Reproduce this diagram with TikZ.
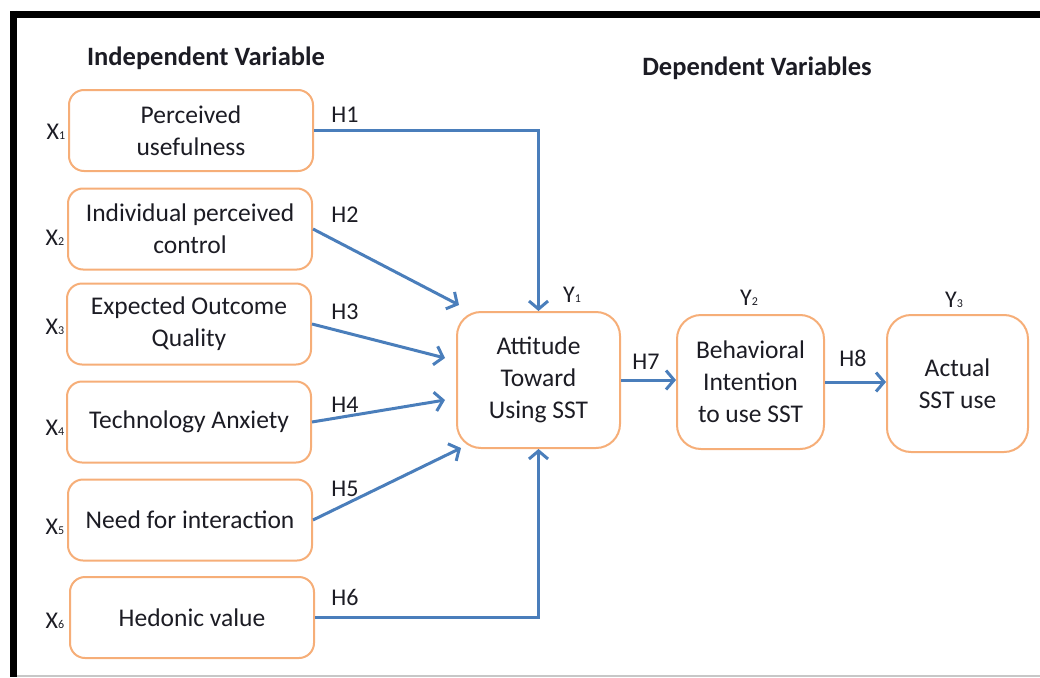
\documentclass[tikz,border=0pt]{standalone}
\usepackage{fontspec}
\setmainfont{Carlito}
\usetikzlibrary{arrows.meta,calc}
\definecolor{boxline}{HTML}{F6AE78}
\definecolor{arrowblue}{HTML}{4A7EBB}
\definecolor{ink}{HTML}{1C1C24}
\newcommand{\varlab}[2]{#1{\fontsize{12}{12}\selectfont #2}}
\begin{document}
\begin{tikzpicture}[x=1pt,y=-1pt,
  every node/.style={text=ink,font=\fontsize{25.5}{32}\selectfont},
  varbox/.style={draw=boxline,line width=2pt,rounded corners=15pt,fill=white,
    minimum width=244pt,minimum height=81pt,align=center,inner sep=2pt},
  depbox/.style={draw=boxline,line width=2pt,rounded corners=24pt,fill=white,
    minimum height=136pt,align=center,inner sep=2pt},
  hyp/.style={draw=arrowblue,line width=3pt,
    -{Straight Barb[length=8pt,width=19pt,line width=3pt]}},
  hlabel/.style={font=\fontsize{24}{24}\selectfont},
  varname/.style={font=\fontsize{24}{24}\selectfont},
  heading/.style={font=\fontsize{26.5}{26.5}\selectfont\bfseries}]
  \useasboundingbox (0,0) rectangle (1040,677);
  % frame
  \draw[line width=7pt,black] (13.5,11) -- (13.5,677);
  \draw[line width=7pt,black] (10,14.5) -- (1040,14.5);
  \draw[line width=1.5pt,black!22] (17,676) -- (1040,676);

  % headings
  \node[heading] (hind) at (206,58) {Independent Variable};
  \node[heading] (hdep) at (757,68) {Dependent Variables};

  % independent variables
  \node[varbox] (b1) at (191,130.5) {Perceived\\usefulness};
  \node[varbox] (b2) at (190,229) {Individual perceived\\control};
  \node[varbox] (b3) at (189,324) {Expected Outcome\\Quality};
  \node[varbox] (b4) at (189,422) {Technology Anxiety};
  \node[varbox] (b5) at (190,520) {Need for interaction};
  \node[varbox] (b6) at (192,617.5) {Hedonic value};

  \node[varname] (x1) at (56,132) {\varlab{X}{1}};
  \node[varname] (x2) at (55,238) {\varlab{X}{2}};
  \node[varname] (x3) at (55,327) {\varlab{X}{3}};
  \node[varname] (x4) at (55,428) {\varlab{X}{4}};
  \node[varname] (x5) at (55,527) {\varlab{X}{5}};
  \node[varname] (x6) at (55,621) {\varlab{X}{6}};

  % dependent variables
  \node[depbox,minimum width=163pt] (att) at (538.5,380) {Attitude\\Toward\\Using SST};
  \node[depbox,minimum width=147pt,minimum height=134pt] (beh) at (750.5,382) {Behavioral\\Intention\\to use SST};
  \node[depbox,minimum width=141pt,minimum height=137pt] (act) at (957.5,383.5) {Actual\\SST use};

  \node[varname] (y1) at (572,295) {\varlab{Y}{1}};
  \node[varname] (y2) at (749,298) {\varlab{Y}{2}};
  \node[varname] (y3) at (954,300) {\varlab{Y}{3}};

  % hypotheses
  \draw[hyp] (b1.east) -- (b1.east -| att.north) -- (att.north);
  \draw[hyp] (b2.east) -- ($(att.north west)+(3,-6)$);
  \draw[hyp] (b3.east) -- ($(att.west)+(-11,-22)$);
  \draw[hyp] (b4.east) -- ($(att.west)+(-11,20)$);
  \draw[hyp] (b5.east) -- ($(att.south west)+(5,-1)$);
  \draw[hyp] (b6.east) -- (b6.east -| att.south) -- (att.south);
  \draw[hyp] (att.east) -- (att.east -| beh.west);
  \draw[hyp] (beh.east) -- (beh.east -| act.west);

  \node[hlabel] (h1) at (345,115) {H1};
  \node[hlabel] (h2) at (345,215) {H2};
  \node[hlabel] (h3) at (345,312) {H3};
  \node[hlabel] (h4) at (345,405) {H4};
  \node[hlabel] (h5) at (345,489) {H5};
  \node[hlabel] (h6) at (345,597) {H6};
  \node[hlabel] (h7) at (646,362) {H7};
  \node[hlabel] (h8) at (853,358) {H8};
\end{tikzpicture}
\end{document}
